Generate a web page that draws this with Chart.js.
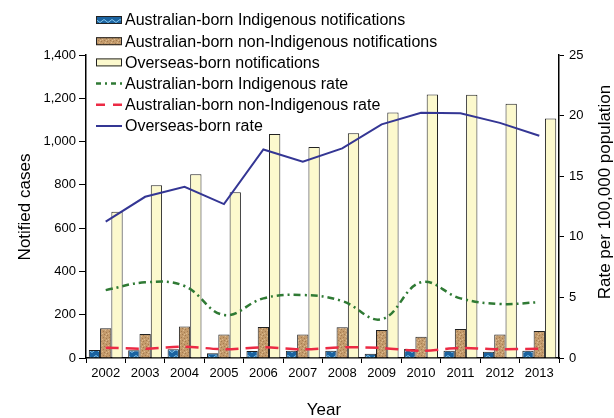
<!DOCTYPE html>
<html>
<head>
<meta charset="utf-8">
<script src="https://cdn.jsdelivr.net/npm/chart.js@4.4.1/dist/chart.umd.min.js"></script>
<style>
  html, body { margin:0; padding:0; background:#fff; }
  #wrap { width:614px; height:418px; }
</style>
</head>
<body>
<div id="wrap"><canvas id="chart" width="614" height="418"></canvas></div>
<script>
// ===== Datos =====
const years = ['2002','2003','2004','2005','2006','2007','2008','2009','2010','2011','2012','2013'];

const indigenousNotif    = [37, 36, 40, 22, 32, 34, 34, 20, 42, 33, 29, 33];
const nonIndigenousNotif = [137, 111, 145, 109, 143, 109, 142, 129, 98, 134, 109, 125];
const overseasNotif      = [676, 798, 849, 766, 1035, 975, 1038, 1134, 1218, 1216, 1175, 1107];

const indigenousRate    = [5.6, 6.24, 5.94, 3.55, 4.92, 5.2, 4.7, 3.2, 6.25, 4.92, 4.46, 4.6];
const nonIndigenousRate = [0.85, 0.77, 0.93, 0.72, 0.88, 0.72, 0.88, 0.83, 0.6, 0.83, 0.72, 0.77];
const overseasRate      = [11.25, 13.3, 14.13, 12.7, 17.2, 16.2, 17.3, 19.28, 20.24, 20.19, 19.4, 18.34];

const casesTicks = [0, 200, 400, 600, 800, 1000, 1200, 1400];
const rateTicks  = [0, 5, 10, 15, 20, 25];

const FONT = '"Liberation Sans", Arial, sans-serif';

// ===== Texturas =====
function zigzagPattern(){
  const c = document.createElement('canvas');
  c.width = 8; c.height = 6;
  const g = c.getContext('2d');
  g.fillStyle = '#1b63a0';
  g.fillRect(0,0,8,6);
  g.strokeStyle = '#86c8ee';
  g.lineWidth = 1;
  g.beginPath();
  g.moveTo(0,1.5); g.lineTo(4,4.5); g.lineTo(8,1.5);
  g.stroke();
  return g.createPattern(c, 'repeat');
}

function speckPattern(){
  const c = document.createElement('canvas');
  c.width = 6; c.height = 6;
  const g = c.getContext('2d');
  g.fillStyle = '#c49b6c';
  g.fillRect(0,0,6,6);
  g.fillStyle = '#a47b50';
  [[1,1],[4,2],[2,4],[5,5]].forEach(([x,y])=>g.fillRect(x,y,1,1));
  g.fillStyle = '#dcbc90';
  [[3,0],[0,3],[4,4]].forEach(([x,y])=>g.fillRect(x,y,1,1));
  return g.createPattern(c, 'repeat');
}

const blueFill = zigzagPattern();
const brownFill = speckPattern();
const yellowFill = '#fcf9cd';

// ===== Leyenda y títulos (plugin) =====
const legendItems = [
  {type:'box', fill: blueFill, text:'Australian-born Indigenous notifications'},
  {type:'box', fill: brownFill, text:'Australian-born non-Indigenous notifications'},
  {type:'box', fill: yellowFill, text:'Overseas-born notifications'},
  {type:'line', color:'#2f7a34', dash:[5,4,2,4], width:2.5, text:'Australian-born Indigenous rate'},
  {type:'line', color:'#ec2a44', dash:[9,8], width:2.5, text:'Australian-born non-Indigenous rate'},
  {type:'line', color:'#343694', dash:[], width:2, text:'Overseas-born rate'}
];

const decorPlugin = {
  id:'decor',
  afterDraw(chart){
    const ctx = chart.ctx;
    ctx.save();
    // leyenda
    ctx.font = '16px ' + FONT;
    ctx.textBaseline = 'middle';
    ctx.textAlign = 'left';
    legendItems.forEach((it, i)=>{
      const cy = 20 + i * 21.2;
      if(it.type === 'box'){
        ctx.fillStyle = it.fill;
        ctx.fillRect(96, cy - 4, 26, 8);
        ctx.strokeStyle = '#222';
        ctx.lineWidth = 1;
        ctx.strokeRect(96.5, cy - 3.5, 25, 7);
      }else{
        ctx.strokeStyle = it.color;
        ctx.lineWidth = it.width;
        ctx.setLineDash(it.dash);
        ctx.beginPath();
        ctx.moveTo(96, cy);
        ctx.lineTo(122, cy);
        ctx.stroke();
        ctx.setLineDash([]);
      }
      ctx.fillStyle = '#000';
      ctx.fillText(it.text, 125, cy + 1);
    });

    // títulos de ejes
    ctx.font = '17px ' + FONT;
    ctx.fillStyle = '#000';
    ctx.textAlign = 'center';
    ctx.textBaseline = 'middle';
    ctx.fillText('Year', 324, 410);

    ctx.save();
    ctx.translate(25, 207);
    ctx.rotate(-Math.PI/2);
    ctx.fillText('Notified cases', 0, 0);
    ctx.restore();

    ctx.save();
    ctx.translate(605, 192);
    ctx.rotate(-Math.PI/2);
    ctx.fillText('Rate per 100,000 population', 0, 0);
    ctx.restore();

    ctx.restore();
  }
};

// ===== Gráfica =====
const barBase = {type:'bar', yAxisID:'y', borderColor:'#222', borderWidth:1, order:1,
  categoryPercentage:0.86, barPercentage:1.0};
const lineBase = {type:'line', yAxisID:'y1', pointRadius:0, fill:false, order:0};

new Chart(document.getElementById('chart').getContext('2d'), {
  data:{
    labels: years,
    datasets:[
      {...barBase, label:'Australian-born Indigenous notifications', data: indigenousNotif, backgroundColor: blueFill},
      {...barBase, label:'Australian-born non-Indigenous notifications', data: nonIndigenousNotif, backgroundColor: brownFill},
      {...barBase, label:'Overseas-born notifications', data: overseasNotif, backgroundColor: yellowFill},
      {...lineBase, label:'Australian-born Indigenous rate', data: indigenousRate,
        borderColor:'#2f7a34', borderWidth:2.5, borderDash:[7,4,2,4], tension:0.4},
      {...lineBase, label:'Australian-born non-Indigenous rate', data: nonIndigenousRate,
        borderColor:'#ec2a44', borderWidth:2.5, borderDash:[13,7], tension:0.3},
      {...lineBase, label:'Overseas-born rate', data: overseasRate,
        borderColor:'#343694', borderWidth:2, tension:0}
    ]
  },
  options:{
    responsive:false,
    animation:false,
    layout:{padding:{top:55, left:0, right:0, bottom:0}},
    plugins:{legend:{display:false}, tooltip:{enabled:false}},
    scales:{
      x:{
        offset:true,
        grid:{offset:true, drawOnChartArea:false, drawTicks:true, tickLength:5, color:'#000'},
        border:{display:true, color:'#000', width:1.5},
        ticks:{color:'#000', font:{family:FONT, size:13}, padding:3, maxRotation:0},
        afterFit(s){ s.height = 60; }
      },
      y:{
        position:'left',
        min:0, max:1400,
        afterBuildTicks(s){ s.ticks = casesTicks.map(v=>({value:v})); },
        grid:{drawOnChartArea:false, drawTicks:true, tickLength:7, color:'#000'},
        border:{display:true, color:'#000', width:1.5},
        ticks:{color:'#000', font:{family:FONT, size:13}, padding:3,
          callback:v=>v.toLocaleString('en-US')},
        afterFit(s){ s.width = 86; }
      },
      y1:{
        position:'right',
        min:0, max:25,
        afterBuildTicks(s){ s.ticks = rateTicks.map(v=>({value:v})); },
        grid:{drawOnChartArea:false, drawTicks:true, tickLength:5, color:'#000'},
        border:{display:true, color:'#000', width:1.5},
        ticks:{color:'#000', font:{family:FONT, size:13}, padding:5},
        afterFit(s){ s.width = 55; }
      }
    }
  },
  plugins:[decorPlugin]
});
</script>
</body>
</html>
